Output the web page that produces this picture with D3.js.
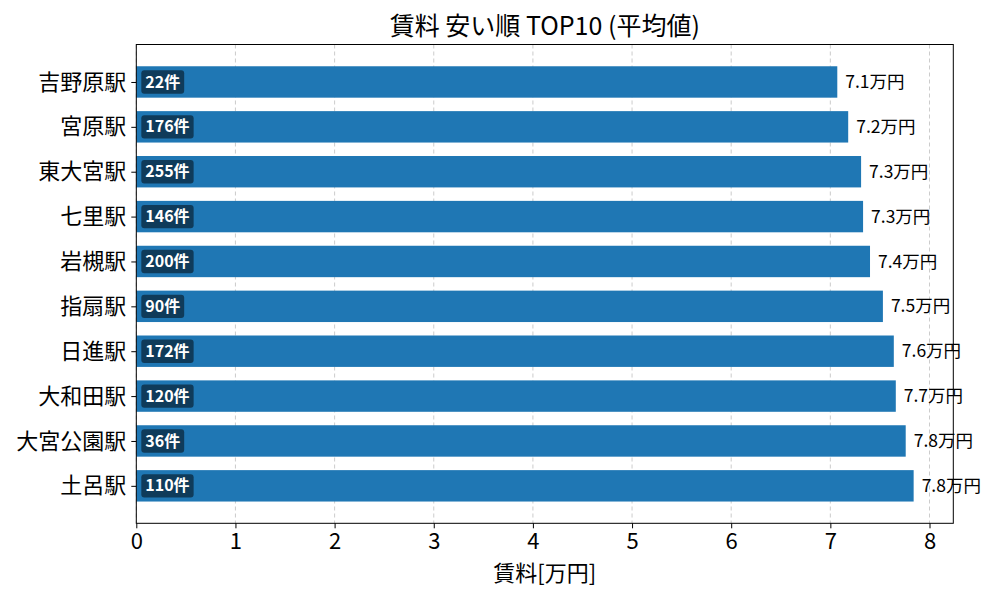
<!DOCTYPE html>
<html>
<head>
<meta charset="utf-8">
<script src="https://cdn.jsdelivr.net/npm/d3@7"></script>
<style>
  body { margin: 0; background: #fff; }
  svg { font-family: "Noto Sans CJK JP", "Noto Sans", sans-serif; }
</style>
</head>
<body>
<svg id="chart" width="1000" height="600"></svg>
<script>
// stations, cheapest first (top of chart)
var stations = ['吉野原駅', '宮原駅', '東大宮駅', '七里駅', '岩槻駅', '指扇駅', '日進駅', '大和田駅', '大宮公園駅', '土呂駅'];
// average rent, 万円
var rents = [7.07, 7.18, 7.31, 7.33, 7.40, 7.53, 7.64, 7.66, 7.76, 7.84];
// number of listings
var counts = [22, 176, 255, 146, 200, 90, 172, 120, 36, 110];
var xTicks = [0, 1, 2, 3, 4, 5, 6, 7, 8];

var data = stations.map(function(s, i) {
    return {station: s, rent: rents[i], count: counts[i], idx: i};
});

var margin = {left: 136.3, right: 1000 - 953.3, top: 44.5, bottom: 600 - 523.3};
var width = 1000 - margin.left - margin.right,
    height = 600 - margin.top - margin.bottom;

var svg = d3.select('#chart');
var g = svg.append('g')
    .attr('transform', 'translate(' + margin.left + ',' + margin.top + ')');

var x = d3.scaleLinear().domain([0, 8.24]).range([0, width]);
// matplotlib style: positions 0..9, bar height 0.7, 5% margins
var y = d3.scaleLinear().domain([-0.835, 9.835]).range([0, height]);
var barH = 0.7;

// grid
g.append('g').selectAll('line')
    .data(xTicks)
    .enter().append('line')
    .attr('x1', function(d) { return x(d); })
    .attr('x2', function(d) { return x(d); })
    .attr('y1', 0).attr('y2', height)
    .style('stroke', '#b0b0b0')
    .style('stroke-width', 0.8)
    .style('stroke-dasharray', '4,3')
    .style('opacity', 0.8);

// bars
g.append('g').selectAll('rect')
    .data(data)
    .enter().append('rect')
    .attr('x', x(0))
    .attr('y', function(d) { return y(d.idx - barH / 2); })
    .attr('width', function(d) { return x(d.rent) - x(0); })
    .attr('height', y(barH) - y(0))
    .style('fill', '#1f77b4');

// value labels
g.append('g').selectAll('text')
    .data(data)
    .enter().append('text')
    .attr('x', function(d) { return x(d.rent) + 8; })
    .attr('y', function(d) { return y(d.idx); })
    .attr('dy', '0.35em')
    .style('font-size', '17.5px')
    .style('fill', '#000')
    .text(function(d) { return d.rent.toFixed(1) + '万円'; });

// count badges
var badge = g.append('g').selectAll('g')
    .data(data)
    .enter().append('g')
    .attr('transform', function(d) { return 'translate(' + (x(0) + 9) + ',' + y(d.idx) + ')'; });

badge.append('text')
    .attr('dy', '0.35em')
    .style('font-size', '16px')
    .style('font-weight', 'bold')
    .style('fill', '#fff')
    .text(function(d) { return d.count + '件'; });

badge.each(function() {
    var grp = d3.select(this),
        bb = grp.select('text').node().getBBox();
    grp.insert('rect', 'text')
        .attr('x', bb.x - 4)
        .attr('y', -11.7)
        .attr('width', bb.width + 8)
        .attr('height', 23.4)
        .attr('rx', 3)
        .style('fill', '#000')
        .style('fill-opacity', 0.5);
});

// axes
var xAxis = g.append('g')
    .attr('transform', 'translate(0,' + height + ')')
    .call(d3.axisBottom(x).tickValues(xTicks).tickFormat(d3.format('d')).tickSize(5).tickPadding(5));

var yAxis = g.append('g')
    .call(d3.axisLeft(y).tickValues(d3.range(stations.length))
        .tickFormat(function(i) { return stations[i]; }).tickSize(5).tickPadding(5));

[xAxis, yAxis].forEach(function(ax) {
    ax.select('.domain').remove();
    ax.selectAll('line').style('stroke', '#000').style('stroke-width', 1);
    ax.selectAll('text')
        .style('font-size', '22px')
        .style('fill', '#000')
        .style('font-family', '"Noto Sans CJK JP", sans-serif');
});

// frame
g.append('rect')
    .attr('width', width).attr('height', height)
    .style('fill', 'none')
    .style('stroke', '#000')
    .style('stroke-width', 1);

// title and axis label
svg.append('text')
    .attr('x', margin.left + width / 2)
    .attr('y', 35)
    .attr('text-anchor', 'middle')
    .style('font-size', '25px')
    .text('賃料 安い順 TOP10 (平均値)');

svg.append('text')
    .attr('x', margin.left + width / 2)
    .attr('y', 581)
    .attr('text-anchor', 'middle')
    .style('font-size', '22px')
    .text('賃料[万円]');
</script>
</body>
</html>
